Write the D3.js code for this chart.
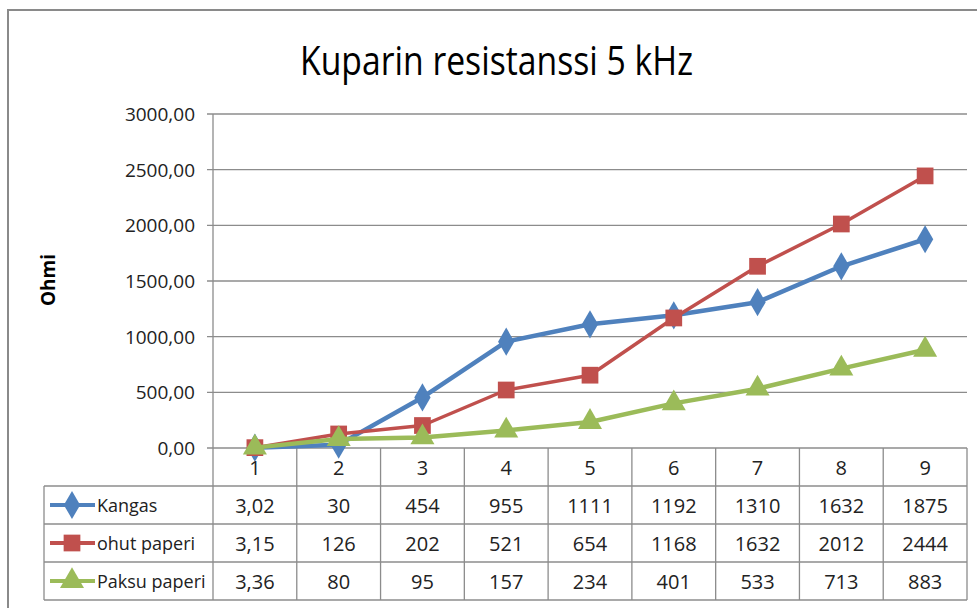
<!DOCTYPE html>
<html>
<head>
<meta charset="utf-8">
<title>Kuparin resistanssi 5 kHz</title>
<script src="https://d3js.org/d3.v7.min.js"></script>
<style>
body { margin: 0; background: #fff; }
svg { display: block; font-family: "Liberation Sans Narrow", "Open Sans", "Liberation Sans", Arial, sans-serif; }
.grid line { stroke: #8c8c8c; stroke-width: 1.3; }
.tbl line { stroke: #8c8c8c; stroke-width: 1.3; }
</style>
</head>
<body>
<svg width="977" height="608"></svg>
<script>
var categories = ["1", "2", "3", "4", "5", "6", "7", "8", "9"];
var seriesNames = ["Kangas", "ohut paperi", "Paksu paperi"];
var kangas = [3.02, 30, 454, 955, 1111, 1192, 1310, 1632, 1875];
var ohutPaperi = [3.15, 126, 202, 521, 654, 1168, 1632, 2012, 2444];
var paksuPaperi = [3.36, 80, 95, 157, 234, 401, 533, 713, 883];
var yTicks = [0, 500, 1000, 1500, 2000, 2500, 3000];
var colors = ["#4f81bd", "#c0504d", "#9bbb59"];

var series = [kangas, ohutPaperi, paksuPaperi];

var svg = d3.select("svg");

var fi = d3.formatLocale({decimal: ",", thousands: "", grouping: [3], currency: ["", ""]});
var tickFmt = fi.format(".2f");
function cellFmt(v) { return String(v).replace(".", ","); }

// outer chart border
svg.append("rect")
  .attr("x", 8).attr("y", 10)
  .attr("width", 1000).attr("height", 700)
  .attr("fill", "none")
  .attr("stroke", "#8a8a8a")
  .attr("stroke-width", 2);

svg.append("text")
  .attr("x", 300).attr("y", 75)
  .attr("font-size", 40)
  .attr("textLength", 393)
  .attr("lengthAdjust", "spacingAndGlyphs")
  .attr("fill", "#000")
  .text("Kuparin resistanssi 5 kHz");

var x = d3.scaleBand().domain(categories).range([213, 967]);
var y = d3.scaleLinear().domain([0, 3000]).range([448, 114]);

// gridlines
var grid = svg.append("g").attr("class", "grid");
grid.selectAll("line").data(yTicks).enter().append("line")
  .attr("x1", 207).attr("x2", 967)
  .attr("y1", function(d) { return y(d); })
  .attr("y2", function(d) { return y(d); });
grid.append("line")
  .attr("x1", 213).attr("x2", 213)
  .attr("y1", y(3000)).attr("y2", y(0));

svg.append("g").selectAll("text").data(yTicks).enter().append("text")
  .attr("x", 195)
  .attr("y", function(d) { return y(d) + 7; })
  .attr("text-anchor", "end")
  .attr("font-size", 19)
  .attr("fill", "#222")
  .text(function(d) { return tickFmt(d); });

svg.append("text")
  .attr("transform", "translate(55," + (y(1500) - 1) + ") rotate(-90)")
  .attr("text-anchor", "middle")
  .attr("font-size", 19)
  .attr("font-weight", "bold")
  .attr("fill", "#000")
  .text("Ohmi");

// data table
var rowH = 38;
var tableTop = y(0);
var tbl = svg.append("g").attr("class", "tbl");
var tableLeft = 44;
var bottom = tableTop + rowH * 4;

[1, 2, 3, 4].forEach(function(i) {
  tbl.append("line")
    .attr("x1", tableLeft).attr("x2", 967)
    .attr("y1", tableTop + rowH * i).attr("y2", tableTop + rowH * i);
});
var bounds = categories.map(function(c) { return x(c); }).concat([x.range()[1]]);
tbl.selectAll("line.v").data(bounds).enter().append("line")
  .attr("class", "v")
  .attr("x1", function(d) { return d; }).attr("x2", function(d) { return d; })
  .attr("y1", tableTop).attr("y2", bottom);
tbl.append("line")
  .attr("x1", tableLeft).attr("x2", tableLeft)
  .attr("y1", tableTop + rowH).attr("y2", bottom);

svg.append("g").selectAll("text").data(categories).enter().append("text")
  .attr("x", function(d) { return x(d) + x.bandwidth() / 2; })
  .attr("y", tableTop + rowH / 2 + 8)
  .attr("text-anchor", "middle")
  .attr("font-size", 20)
  .attr("fill", "#222")
  .text(function(d) { return d; });

var symbols = [d3.symbolDiamond, d3.symbolSquare, d3.symbolTriangle];
var symSizes = [230, 280, 250];

series.forEach(function(vals, si) {
  var ry = tableTop + rowH * (si + 1);
  svg.append("g").selectAll("text").data(vals).enter().append("text")
    .attr("x", function(d, i) { return x(categories[i]) + x.bandwidth() / 2; })
    .attr("y", ry + rowH / 2 + 8)
    .attr("text-anchor", "middle")
    .attr("font-size", 20)
    .attr("fill", "#222")
    .text(function(d) { return cellFmt(d); });

  // legend key
  svg.append("line")
    .attr("x1", 50).attr("x2", 95)
    .attr("y1", ry + rowH / 2).attr("y2", ry + rowH / 2)
    .attr("stroke", colors[si]).attr("stroke-width", 4);
  svg.append("path")
    .attr("transform", "translate(72," + (ry + rowH / 2) + ")")
    .attr("d", d3.symbol().type(symbols[si]).size(symSizes[si])())
    .attr("fill", colors[si]);
  svg.append("text")
    .attr("x", 97).attr("y", ry + rowH / 2 + 7)
    .attr("font-size", 18)
    .attr("fill", "#222")
    .text(seriesNames[si]);
});

// lines and markers
var line = d3.line()
  .x(function(d, i) { return x(categories[i]) + x.bandwidth() / 2; })
  .y(function(d) { return y(d); });

series.forEach(function(vals, si) {
  svg.append("path")
    .attr("d", line(vals))
    .attr("fill", "none")
    .attr("stroke", colors[si])
    .attr("stroke-width", si === 1 ? 3.5 : 4.5)
    .attr("stroke-linejoin", "round");
  svg.append("g").selectAll("path").data(vals).enter().append("path")
    .attr("transform", function(d, i) {
      return "translate(" + (x(categories[i]) + x.bandwidth() / 2) + "," + y(d) + ")";
    })
    .attr("d", d3.symbol().type(symbols[si]).size(symSizes[si])())
    .attr("fill", colors[si]);
});
</script>
</body>
</html>
